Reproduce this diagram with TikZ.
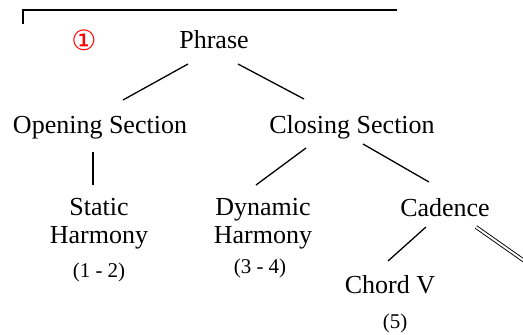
\documentclass[tikz,border=0pt]{standalone}
\usepackage{fontspec}
\setmainfont{Liberation Serif}
\newfontfamily\symfont{DejaVu Sans}
\usetikzlibrary{positioning}

\begin{document}
\begin{tikzpicture}[
  x=1pt, y=-1pt,
  sect/.style={inner sep=0pt, anchor=base, align=center, font=\fontsize{26}{28}\selectfont},
  span/.style={inner sep=0pt, anchor=base, font=\fontsize{21}{24}\selectfont},
  edge/.style={line width=1.3pt},
  mark1/.style={text=red, font=\symfont\fontsize{28}{30}\selectfont}
]
\useasboundingbox (0,0) rectangle (523,335);
\clip (0,0) rectangle (523,335);

% bracket
\draw[line width=1.2pt] (23,24) -- (23,10) -- (397,10);

% labels
\node[mark1] (one) at (84,40) {①};
\node[sect] (phrase)  at (214,48)  {Phrase};
\node[sect] (opening) at (100,133) {Opening Section};
\node[sect] (closing) at (352,133) {Closing Section};
\node[sect] (static)  at (99,243)  {Static\\Harmony};
\node[sect] (dynamic) at (263,243) {Dynamic\\Harmony};
\node[sect] (cadence) at (445,216) {Cadence};
\node[sect] (chord)   at (390,293) {Chord V};
\node[span] (bars12) at (99,277)  {(1 - 2)};
\node[span] (bars34) at (260,273) {(3 - 4)};
\node[span] (bar5)   at (395,328) {(5)};
\coordinate (offpage) at (560,286);

% edges
\draw[edge] ([xshift=-26pt,yshift=-16pt]phrase.base) -- ([xshift=23pt,yshift=33pt]opening.base);
\draw[edge] ([xshift=24pt,yshift=-16pt]phrase.base) -- ([xshift=-48pt,yshift=34pt]closing.base);
\draw[edge] ([xshift=-7pt,yshift=-19pt]opening.base) -- ([xshift=-6pt,yshift=58pt]static.base);
\draw[edge] ([xshift=-46pt,yshift=-15pt]closing.base) -- ([xshift=-7pt,yshift=58pt]dynamic.base);
\draw[edge] ([xshift=11pt,yshift=-11pt]closing.base) -- ([xshift=-16pt,yshift=34pt]cadence.base);
\draw[edge] ([xshift=-19pt,yshift=-11pt]cadence.base) -- ([xshift=-2pt,yshift=32pt]chord.base);
\draw[double, double distance=2pt, line width=0.9pt] ([xshift=31pt,yshift=-11pt]cadence.base) -- (offpage);

\end{tikzpicture}
\end{document}
